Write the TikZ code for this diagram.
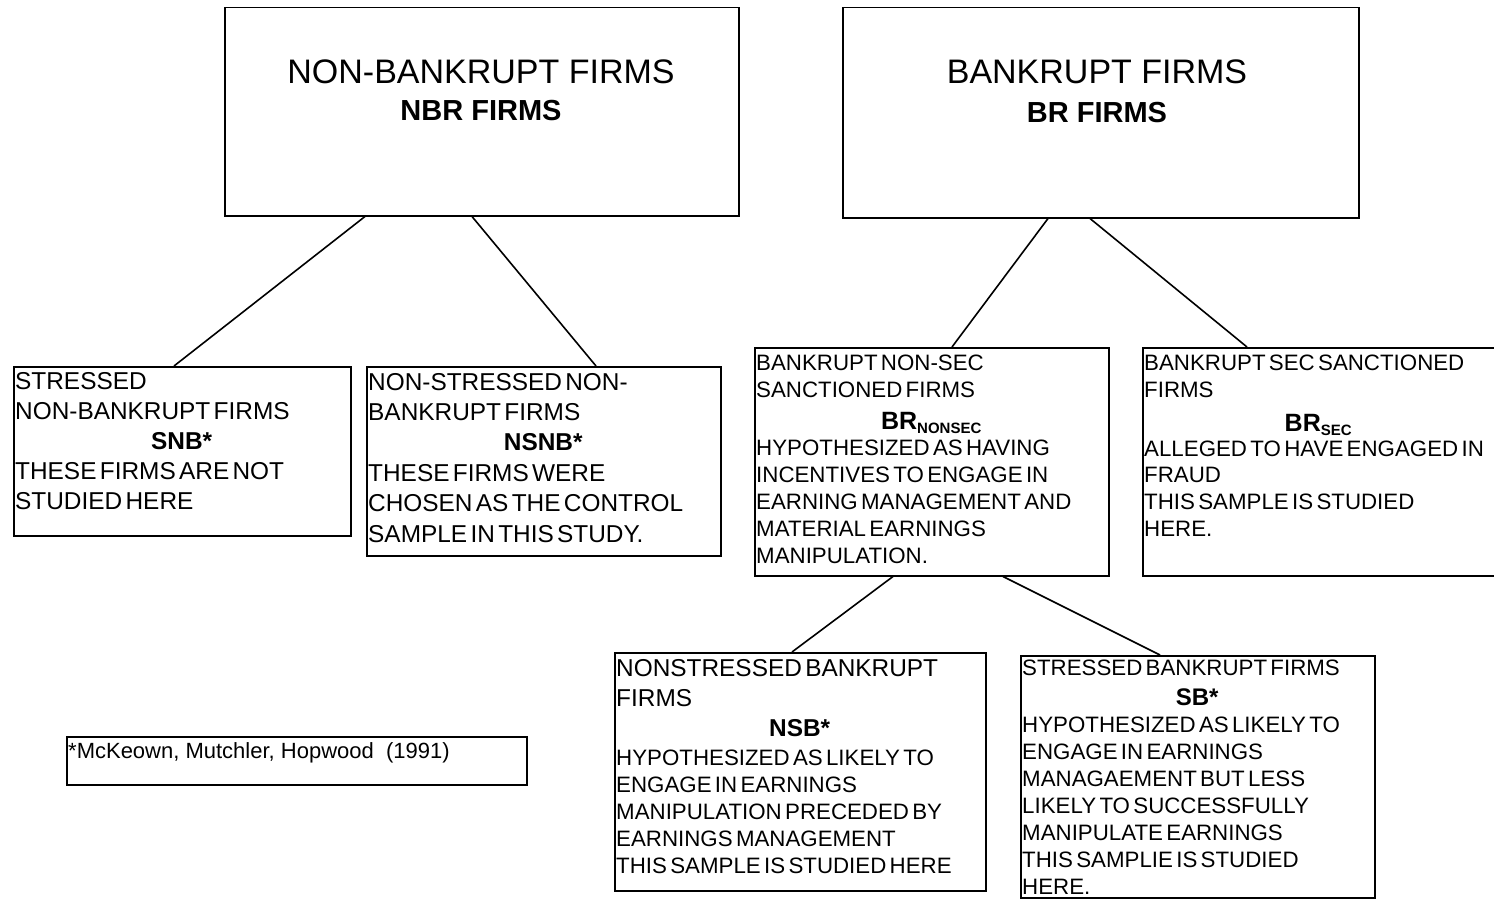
\documentclass[tikz,border=0pt]{standalone}
\usepackage{fontspec}
\setmainfont{Liberation Sans}
\newcommand\fsz[2]{\fontsize{#1pt}{#2pt}\selectfont}
\begin{document}
\begin{tikzpicture}[x=1pt,y=-1pt,
  box/.style={draw, line width=1.5pt, anchor=north west, inner sep=0pt},
  txt/.style={anchor=base west, inner sep=0pt, align=left},
  title/.style={anchor=base, inner sep=0pt},
  conn/.style={line width=1.6pt}]
\useasboundingbox (0,0) rectangle (1494,899);
% boxes
\node[box, minimum width=514pt, minimum height=208pt] (nbr) at (224,7) {};
\node[box, minimum width=516pt, minimum height=210pt] (br) at (842,7) {};
\node[box, minimum width=337pt, minimum height=169pt] (snb) at (13,366) {};
\node[box, minimum width=354pt, minimum height=189pt] (nsnb) at (366,366) {};
\node[box, minimum width=354pt, minimum height=228pt] (brn) at (754,347) {};
\node[box, minimum width=370pt, minimum height=228pt] (brs) at (1142,347) {};
\node[box, minimum width=371pt, minimum height=238pt] (nsb) at (614,652) {};
\node[box, minimum width=354pt, minimum height=242pt] (sb) at (1020,655) {};
\node[box, minimum width=460pt, minimum height=48pt] (fn) at (66,736) {};
% titles
\node[title, font=\fsz{34}{40}] (nbr-a) at (481,84) {NON-BANKRUPT FIRMS};
\node[title, font=\fsz{29}{34}\bfseries] (nbr-b) at (481,121) {NBR FIRMS};
\node[title, font=\fsz{34}{40}] (br-a) at (1097,84) {BANKRUPT FIRMS};
\node[title, font=\fsz{29}{34}\bfseries] (br-b) at (1097,122) {BR FIRMS};
% box texts
\node[txt, text width=333pt] (snb-t) at (15,389) {\fsz{24.4}{30}STRESSED\par
NON-BANKRUPT FIRMS\par
\makebox[\linewidth]{\bfseries SNB*}\par
THESE FIRMS ARE NOT\par
STUDIED HERE\par};
\node[txt, text width=350pt] (nsnb-t) at (368,390) {\fsz{24.4}{30.4}NON-STRESSED NON-\par
BANKRUPT FIRMS\par
\makebox[\linewidth]{\bfseries NSNB*}\par
THESE FIRMS WERE\par
CHOSEN AS THE CONTROL\par
SAMPLE IN THIS STUDY.\par};
\node[txt, text width=350pt] (brn-t) at (756,370) {\fsz{22.3}{27}BANKRUPT NON-SEC\par
SANCTIONED FIRMS\par
\fsz{25}{32}\makebox[\linewidth]{\bfseries BR\raisebox{-4pt}{\fsz{15}{15}NONSEC}}\par
\fsz{22.3}{26}HYPOTHESIZED AS HAVING\par
\fsz{22.3}{27}INCENTIVES TO ENGAGE IN\par
EARNING MANAGEMENT AND\par
MATERIAL EARNINGS\par
MANIPULATION.\par};
\node[txt, text width=348pt] (brs-t) at (1144,370) {\fsz{22.3}{27}BANKRUPT SEC SANCTIONED\par
FIRMS\par
\fsz{25}{34}\makebox[\linewidth]{\bfseries BR\raisebox{-4pt}{\fsz{15}{15}SEC}}\par
\fsz{22.3}{25}ALLEGED TO HAVE ENGAGED IN\par
\fsz{22.3}{26.7}FRAUD\par
THIS SAMPLE IS STUDIED\par
HERE.\par};
\node[txt, text width=367pt] (nsb-t) at (616,676) {\fsz{24.4}{30}NONSTRESSED BANKRUPT\par
FIRMS\par
\makebox[\linewidth]{\bfseries NSB*}\par
\fsz{22.3}{29}HYPOTHESIZED AS LIKELY TO\par
\fsz{22.3}{27}ENGAGE IN EARNINGS\par
MANIPULATION PRECEDED BY\par
EARNINGS MANAGEMENT\par
THIS SAMPLE IS STUDIED HERE\par};
\node[txt, text width=350pt] (sb-t) at (1022,675) {\fsz{22.3}{27}STRESSED BANKRUPT FIRMS\par
\fsz{24}{30}\makebox[\linewidth]{\bfseries SB*}\par
\fsz{22.3}{27}HYPOTHESIZED AS LIKELY TO\par
ENGAGE IN EARNINGS\par
MANAGAEMENT BUT LESS\par
LIKELY TO SUCCESSFULLY\par
MANIPULATE EARNINGS\par
THIS SAMPLIE IS STUDIED\par
HERE.\par};
\node[txt] (fn-t) at (68,758) {\fsz{22}{27}*McKeown, Mutchler, Hopwood\ \ (1991)};
% connectors
\draw[conn] ([xshift=141pt]nbr.south west) -- ([xshift=161pt]snb.north west);
\draw[conn] ([xshift=248pt]nbr.south west) -- ([xshift=230pt]nsnb.north west);
\draw[conn] ([xshift=206pt]br.south west) -- ([xshift=198pt]brn.north west);
\draw[conn] ([xshift=248pt]br.south west) -- ([xshift=105pt]brs.north west);
\draw[conn] ([xshift=139pt]brn.south west) -- ([xshift=178pt]nsb.north west);
\draw[conn] ([xshift=249pt]brn.south west) -- ([xshift=140pt]sb.north west);
\end{tikzpicture}
\end{document}
